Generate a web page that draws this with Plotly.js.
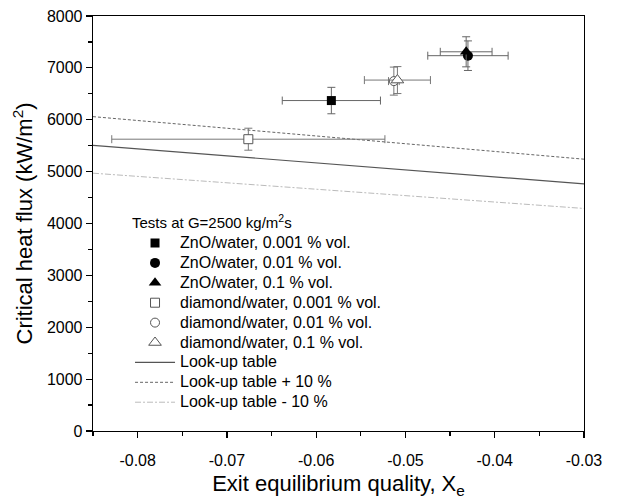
<!DOCTYPE html>
<html>
<head>
<meta charset="utf-8">
<script src="https://cdn.plot.ly/plotly-3.0.1.min.js"></script>
<style>
  html, body { margin: 0; padding: 0; background: #fff; }
  #chart { width: 621px; height: 499px; }
</style>
</head>
<body>
<div id="chart"></div>
<script>
// Critical heat flux vs exit equilibrium quality, G = 2500 kg/m2s

// Measured points: x = exit quality, y = CHF (kW/m2), with uncertainties
const znoLabels   = ['ZnO/water, 0.001 % vol.', 'ZnO/water, 0.01 % vol.', 'ZnO/water, 0.1 % vol.'];
const znoX        = [-0.0583, -0.0430, -0.0432];
const znoY        = [6370, 7235, 7310];
const znoXErr     = [0.0055, 0.0045, 0.0029];
const znoYErr     = [255, 285, 290];

const diaLabels   = ['diamond/water, 0.001 % vol.', 'diamond/water, 0.01 % vol.', 'diamond/water, 0.1 % vol.'];
const diaX        = [-0.0676, -0.0513, -0.0509];
const diaY        = [5625, 6745, 6765];
const diaXErr     = [0.0153, 0.0006, 0.0037];
const diaYErr     = [212, 270, 260];

// Look-up table predictions across the plotted quality range
const lutX        = [-0.085, -0.03];
const lutY        = [5505, 4765];
const lutPlusY    = [6060, 5240];
const lutMinusY   = [4970, 4290];
const lutLabels   = ['Look-up table', 'Look-up table + 10 %', 'Look-up table - 10 %'];

// Axis ticks
const xTickVals   = [-0.08, -0.07, -0.06, -0.05, -0.04, -0.03];
const xTickText   = ['-0.08', '-0.07', '-0.06', '-0.05', '-0.04', '-0.03'];
const yTickVals   = [0, 1000, 2000, 3000, 4000, 5000, 6000, 7000, 8000];
const yTickText   = ['0', '1000', '2000', '3000', '4000', '5000', '6000', '7000', '8000'];

const FONT = 'Liberation Sans, Arial, sans-serif';
const big = s => '<span style="font-size:16px">' + s + '</span>';

const znoSymbols = ['square', 'circle', 'triangle-up'];
const diaSymbols = ['square', 'circle', 'triangle-up'];
const znoSizes   = [9, 10, 11];
const diaSizes   = [9, 9, 11];

const traces = [];

// reference lines first so the markers sit on top
const lineStyles = [
  { color: '#555', width: 1.2, dash: 'solid' },
  { color: '#666', width: 1, dash: '3px,2px' },
  { color: '#bbb', width: 1, dash: '6px,2px,2px,2px' }
];
[lutY, lutPlusY, lutMinusY].forEach((ys, i) => {
  traces.push({
    type: 'scatter', mode: 'lines',
    x: lutX, y: ys,
    name: big(lutLabels[i]),
    legendrank: 7 + i,
    line: lineStyles[i],
    hoverinfo: 'skip'
  });
});

znoX.forEach((x, i) => {
  traces.push({
    type: 'scatter', mode: 'markers',
    x: [x], y: [znoY[i]],
    name: big(znoLabels[i]),
    legendrank: 1 + i,
    marker: { symbol: znoSymbols[i], size: znoSizes[i], color: '#000', line: { width: 0 } },
    error_x: { type: 'data', array: [znoXErr[i]], color: '#666', thickness: 1, width: 4 },
    error_y: { type: 'data', array: [znoYErr[i]], color: '#666', thickness: 1, width: 4 }
  });
});

diaX.forEach((x, i) => {
  traces.push({
    type: 'scatter', mode: 'markers',
    x: [x], y: [diaY[i]],
    name: big(diaLabels[i]),
    legendrank: 4 + i,
    marker: { symbol: diaSymbols[i], size: diaSizes[i], color: '#fff', line: { width: 1, color: '#555' } },
    error_x: { type: 'data', array: [diaXErr[i]], color: '#777', thickness: 1, width: 4 },
    error_y: { type: 'data', array: [diaYErr[i]], color: '#777', thickness: 1, width: 4 }
  });
});

const axisCommon = {
  showgrid: false, zeroline: false,
  showline: true, linecolor: '#000', linewidth: 1.3, mirror: true,
  ticks: 'outside', ticklen: 6, tickwidth: 1.2, tickcolor: '#000',
  tickfont: { family: FONT, size: 16, color: '#000' }
};

const layout = {
  width: 621, height: 499,
  paper_bgcolor: '#fff', plot_bgcolor: '#fff',
  margin: { l: 93, r: 37, t: 16, b: 68 },
  font: { family: FONT, color: '#000' },
  xaxis: Object.assign({}, axisCommon, {
    range: [-0.085, -0.03],
    tickmode: 'array', tickvals: xTickVals, ticktext: xTickText,
    ticklabelstandoff: 8,
    minor: { tickmode: 'linear', tick0: -0.085, dtick: 0.005, ticks: 'outside', ticklen: 4, tickwidth: 1.2, tickcolor: '#000', showgrid: false },
    title: { text: 'Exit equilibrium quality, X<sub>e</sub>', font: { family: FONT, size: 22, color: '#000' }, standoff: 8 }
  }),
  yaxis: Object.assign({}, axisCommon, {
    range: [0, 8000],
    tickmode: 'array', tickvals: yTickVals, ticktext: yTickText,
    minor: { tickmode: 'linear', tick0: 0, dtick: 500, ticks: 'outside', ticklen: 4, tickwidth: 1.2, tickcolor: '#000', showgrid: false },
    title: { text: 'Critical heat flux (kW/m<sup>2</sup>)', font: { family: FONT, size: 22, color: '#000' }, standoff: 8 }
  }),
  showlegend: true,
  legend: {
    x: 0.0754, y: 0.536, xanchor: 'left', yanchor: 'top',
    bgcolor: 'rgba(0,0,0,0)', borderwidth: 0,
    font: { family: FONT, size: 13, color: '#000' },
    title: { text: 'Tests at G=2500 kg/m<sup>2</sup>s', font: { family: FONT, size: 15, color: '#000' } },
    itemwidth: 40,
    traceorder: 'normal'
  }
};

Plotly.newPlot('chart', traces, layout, { displayModeBar: false, staticPlot: true });
</script>
</body>
</html>
